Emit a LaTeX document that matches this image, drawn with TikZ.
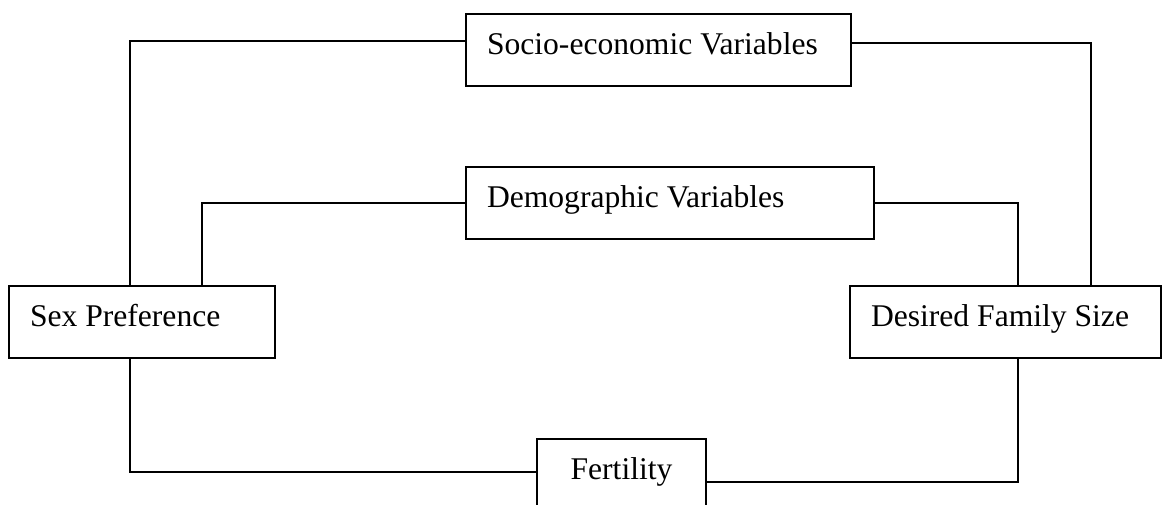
\documentclass[tikz,border=0pt]{standalone}
\usepackage{fontspec}
\setmainfont{Liberation Serif}
\usepackage{tikz}
\usetikzlibrary{positioning}

\begin{document}
\begin{tikzpicture}[
    x=0.5pt, y=-0.5pt,
    factor/.style={rectangle, draw=black, line width=1pt, inner xsep=10.5pt, inner ysep=0pt, text height=20pt, text depth=16pt, align=flush left, font=\fontsize{15.8}{19}\selectfont},
    link/.style={line width=1pt, color=black}
]
    \useasboundingbox (0,0) rectangle (1162,504);

    % Factor boxes
    \node (socio) [factor, text width=171.5pt] at (658.5,50) {Socio-economic Variables};
    \node (demo) [factor, text width=183pt] at (670,203) {Demographic Variables};
    \node (sex) [factor, text width=112pt] at (142,322) {Sex Preference};
    \node (dfs) [factor, text width=134.5pt] at (1005.5,322) {Desired Family Size};
    \node (fert) [factor, text width=63.5pt, align=flush center] at (621.5,475) {Fertility};

    % Upper links
    \draw [link] ([yshift=4.5pt]socio.west) -| ([xshift=-6pt]sex.north);
    \draw [link] ([yshift=3.5pt]socio.east) -| ([xshift=42.75pt]dfs.north);
    \draw [link] (demo.west) -| ([xshift=30pt]sex.north);
    \draw [link] (demo.east) -| ([xshift=6.25pt]dfs.north);

    % Lower links
    \draw [link] ([xshift=-6pt]sex.south) |- ([yshift=1.5pt]fert.west);
    \draw [link] ([yshift=-3.5pt]fert.east) -| ([xshift=6.25pt]dfs.south);

\end{tikzpicture}
\end{document}
